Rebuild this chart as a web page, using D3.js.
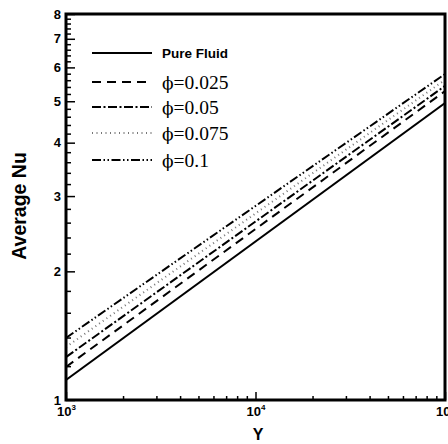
<!DOCTYPE html>
<html>
<head>
<meta charset="utf-8">
<script src="https://cdn.jsdelivr.net/npm/d3@7"></script>
<style>
	body { margin: 0; background: #fff; }
	svg { display: block; overflow: hidden; }
</style>
</head>
<body>
<div id="chart"></div>
<script>
// values (Y at the two ends of the x range)
var yValues = [1000, 100000];
var pureFluid = [1.114, 4.95];
var phi025 = [1.195, 5.28];
var phi05 = [1.26, 5.43];
var phi075 = [1.33, 5.61];
var phi1 = [1.397, 5.79];

var seriesNames = ['Pure Fluid', '\u03d5=0.025', '\u03d5=0.05', '\u03d5=0.075', '\u03d5=0.1'];
var seriesValues = [pureFluid, phi025, phi05, phi075, phi1];

var yTickLabels = [1, 2, 3, 4, 5, 6, 7, 8];
var xTickLabels = [3, 4, 5]; // exponents of 10

// line styles, same order as the series
var styles = [
	{ dash: null, width: 2, color: '#000' },
	{ dash: '9,6', width: 2, color: '#000' },
	{ dash: '9,2.5,2,2.5', width: 2, color: '#000' },
	{ dash: '1,3.5', width: 2, color: '#777' },
	{ dash: '9,2.5,1.5,2.5,1.5,2.5', width: 2, color: '#000' }
];

var width = 448, height = 444;
// plot box (window.top is read-only, so no plain "top" here)
var pL = 66, pR = 445, pT = 14, pB = 400;

var svg = d3.select('#chart')
	.append('svg')
	.attr('width', width)
	.attr('height', height);

var x = d3.scaleLog().domain([1000, 100000]).range([pL, pR]);
var y = d3.scaleLog().domain([1, 8]).range([pB, pT]);

var line = d3.line()
	.x(function (d) { return x(d[0]); })
	.y(function (d) { return y(d[1]); });

// clip for the data lines
svg.append('clipPath').attr('id', 'plotclip')
	.append('rect')
	.attr('x', pL).attr('y', pT)
	.attr('width', pR - pL).attr('height', pB - pT);

var plot = svg.append('g').attr('clip-path', 'url(#plotclip)');

seriesValues.forEach(function (vals, i) {
	var pts = yValues.map(function (v, j) { return [v, vals[j]]; });
	plot.append('path')
		.attr('d', line(pts))
		.attr('fill', 'none')
		.attr('stroke', styles[i].color)
		.attr('stroke-width', styles[i].width)
		.attr('stroke-dasharray', styles[i].dash);
});

// minor ticks
var xMinor = [];
[1000, 10000].forEach(function (dec) {
	for (var k = 2; k <= 9; k++) xMinor.push(dec * k);
});
var yMinor = [];
for (var v = 1.2; v < 8; v += 0.2) {
	var r = Math.round(v * 10) / 10;
	if (r % 1 !== 0) yMinor.push(r);
}

var xAxis = d3.axisBottom(x)
	.tickValues(xMinor)
	.tickSize(-4)
	.tickFormat('');
svg.append('g')
	.attr('transform', 'translate(0,' + pB + ')')
	.call(xAxis);

var xMajor = d3.axisBottom(x)
	.tickValues(xTickLabels.map(function (e) { return Math.pow(10, e); }))
	.tickSize(-8)
	.tickFormat('');
svg.append('g')
	.attr('transform', 'translate(0,' + pB + ')')
	.call(xMajor);

var yAxis = d3.axisLeft(y)
	.tickValues(yMinor)
	.tickSize(-5)
	.tickFormat('');
svg.append('g')
	.attr('transform', 'translate(' + pL + ',0)')
	.call(yAxis);

var yMajor = d3.axisLeft(y)
	.tickValues(yTickLabels)
	.tickSize(-9)
	.tickFormat('');
svg.append('g')
	.attr('transform', 'translate(' + pL + ',0)')
	.call(yMajor);

svg.selectAll('.domain').remove();
svg.selectAll('.tick line').attr('stroke', '#000').attr('stroke-width', 1.5);

// frame
svg.append('rect')
	.attr('x', pL).attr('y', pT)
	.attr('width', pR - pL).attr('height', pB - pT)
	.attr('fill', 'none')
	.attr('stroke', '#000')
	.attr('stroke-width', 3);

// tick labels
var labelFont = "'Liberation Sans', Arial, sans-serif";
svg.append('g').selectAll('text')
	.data(yTickLabels)
	.enter().append('text')
	.attr('x', pL - 5)
	.attr('y', function (d) { return y(d) + 4.5; })
	.attr('text-anchor', 'end')
	.attr('font-family', labelFont)
	.attr('font-weight', 'bold')
	.attr('font-size', 13)
	.text(function (d) { return d; });

var xl = svg.append('g').selectAll('text')
	.data(xTickLabels)
	.enter().append('text')
	.attr('x', function (d) { return x(Math.pow(10, d)) - 9; })
	.attr('y', pB + 16)
	.attr('text-anchor', 'start')
	.attr('font-family', labelFont)
	.attr('font-weight', 'bold')
	.attr('font-size', 13);
xl.append('tspan').text('10');
xl.append('tspan')
	.attr('font-size', 8)
	.attr('dy', -6)
	.text(function (d) { return d; });

// axis titles
svg.append('text')
	.attr('x', 258)
	.attr('y', 440)
	.attr('text-anchor', 'middle')
	.attr('font-family', labelFont)
	.attr('font-weight', 'bold')
	.attr('font-size', 16)
	.text('Y');

svg.append('text')
	.attr('transform', 'translate(26,206) rotate(-90)')
	.attr('text-anchor', 'middle')
	.attr('font-family', labelFont)
	.attr('font-weight', 'bold')
	.attr('font-size', 19.5)
	.text('Average Nu');

// legend
var legendY = [53, 82, 107, 133, 160];
var legend = svg.append('g');
seriesNames.forEach(function (name, i) {
	legend.append('line')
		.attr('x1', 92).attr('x2', 152)
		.attr('y1', legendY[i]).attr('y2', legendY[i])
		.attr('stroke', styles[i].color)
		.attr('stroke-width', styles[i].width)
		.attr('stroke-dasharray', styles[i].dash);
	var t = legend.append('text')
		.attr('x', 162);
	if (i === 0) {
		t.attr('y', legendY[i] + 5)
			.attr('font-family', labelFont)
			.attr('font-weight', 'bold')
			.attr('font-size', 13.5)
			.text(name);
	} else {
		t.attr('y', legendY[i] + 7)
			.attr('font-family', "'Liberation Serif', 'Times New Roman', serif")
			.attr('font-size', 19.5);
		// phi glyph from a font that has the straight-stroke form
		t.append('tspan')
			.attr('font-family', "'DejaVu Serif', serif")
			.attr('font-size', 17)
			.text(name.charAt(0));
		t.append('tspan').text(name.slice(1));
	}
});
</script>
</body>
</html>
